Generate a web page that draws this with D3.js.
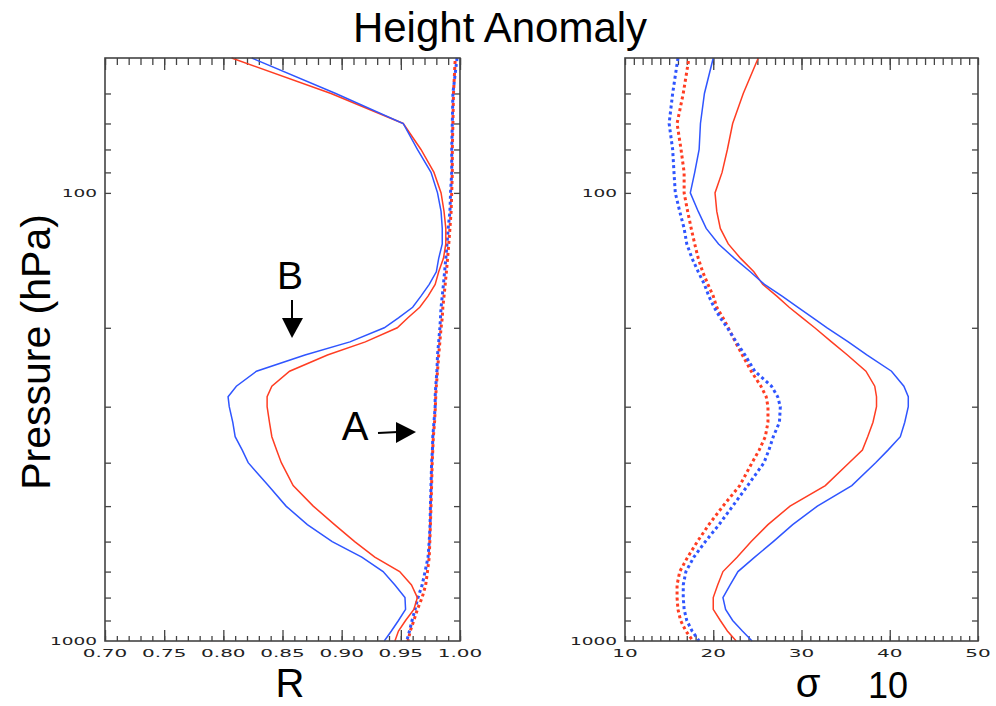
<!DOCTYPE html>
<html>
<head>
<meta charset="utf-8">
<script src="https://cdn.jsdelivr.net/npm/d3@7"></script>
<style>
  body { margin: 0; background: #fff; }
  svg { display: block; }
</style>
</head>
<body>
<div class="chart"></div>
<script>
// pressure levels (hPa) shared by every profile
const pressure = [50,60,70,80,90,100,110,120,130,140,150,160,170,180,190,200,215,230,250,270,285,300,325,350,375,400,450,500,550,600,650,700,750,800,850,900,950,1000];

// left panel: correlation R
const rBlueSolid = [.824,.895,.952,.964,.9755,.981,.984,.985,.985,.982,.980,.974,.967,.960,.948,.936,.907,.869,.828,.811,.804,.805,.808,.810,.816,.821,.838,.853,.871,.892,.917,.935,.945,.9535,.954,.948,.942,.936];
const rRedSolid  = [.807,.891,.952,.967,.978,.984,.9865,.988,.988,.986,.982,.979,.973,.966,.956,.947,.920,.888,.856,.841,.837,.837,.839,.841,.845,.849,.859,.876,.894,.911,.928,.949,.959,.964,.961,.954,.948,.945];
const rBlueDot   = [.9975,.994,.9935,.993,.993,.992,.9915,.990,.989,.988,.987,.986,.985,.984,.9835,.983,.982,.981,.9805,.9795,.979,.979,.978,.977,.9767,.976,.9755,.975,.9747,.974,.973,.9705,.968,.9645,.962,.9595,.9573,.955];
const rRedDot    = [.996,.9945,.994,.9935,.9935,.993,.9925,.9915,.9905,.9895,.9885,.9875,.9865,.9855,.985,.984,.983,.982,.981,.980,.9795,.9792,.9785,.9775,.977,.9765,.976,.9755,.975,.9745,.974,.9725,.971,.968,.964,.961,.958,.956];

// right panel: sigma (x10)
const sBlueSolid = [20.0,19.0,18.55,18.4,17.9,17.4,18.3,19.2,20.6,22.4,24.2,25.8,27.8,29.6,31.3,32.9,35.3,37.4,40.2,41.6,42.1,42.1,41.7,41.2,39.8,38.4,35.7,31.8,29.0,26.8,24.7,22.8,21.9,21.1,21.4,22.2,23.3,24.4];
const sRedSolid  = [25.1,23.4,22.2,21.6,21.0,20.2,20.4,20.8,21.7,23.1,24.6,25.6,27.2,28.6,30.1,31.5,33.4,35.2,37.3,38.3,38.5,38.5,38.1,37.5,36.9,35.4,32.7,28.7,26.2,24.3,22.7,21.1,20.5,20.0,20.0,20.8,21.6,22.6];
const sBlueDot   = [16.0,15.4,15.0,15.4,15.55,15.7,16.2,16.7,17.0,17.6,18.3,19.0,19.5,20.1,20.8,21.6,22.6,23.6,24.7,26.6,27.3,27.6,27.5,26.8,26.3,25.75,23.9,22.2,20.65,19.1,17.8,16.9,16.6,16.6,16.7,17.0,17.6,18.4];
const sRedDot    = [17.25,16.6,15.9,16.35,16.7,16.7,17.1,17.5,17.9,18.3,18.8,19.4,20.0,20.4,21.1,21.7,22.5,23.3,24.3,25.4,26.0,26.2,26.2,25.9,25.2,24.4,23.0,21.1,19.5,18.2,17.1,16.2,15.9,15.9,16.0,16.3,16.9,17.7];

const rTicks = [0.70,0.75,0.80,0.85,0.90,0.95,1.00];
const sTicks = [10,20,30,40,50];
const pLabels = [100,1000];
const pMinor = [60,70,80,90,100,200,300,400,500,600,700,800,900];

const blue = "#2f55ff";
const red = "#ff3d22";

const width = 996;
const height = 706;
const plotTop = 58, plotBottom = 641;

const svg = d3.select('.chart')
  .append('svg')
  .attr('width', width)
  .attr('height', height)
  .style('font-family', 'Liberation Sans, Arial, sans-serif');

const y = d3.scaleLog().domain([50, 1000]).range([plotTop, plotBottom]);

function panel(x0, x1, domain, major, minorStep, labels, fmt, series) {
  const x = d3.scaleLinear().domain(domain).range([x0, x1]);
  const g = svg.append('g');

  const minor = d3.range(domain[0], domain[1] + minorStep / 2, minorStep);

  // ticks, all pointing inward
  const axes = [
    [d3.axisTop(x).tickValues(minor).tickSize(-7), plotTop],
    [d3.axisTop(x).tickValues(major).tickSize(-12), plotTop],
    [d3.axisBottom(x).tickValues(minor).tickSize(-5), plotBottom],
    [d3.axisBottom(x).tickValues(major).tickSize(-11), plotBottom]
  ];
  axes.forEach(a => {
    g.append('g')
      .attr('transform', 'translate(0,' + a[1] + ')')
      .call(a[0].tickFormat(''))
      .call(s => s.select('.domain').remove())
      .selectAll('line').attr('stroke', '#444').attr('stroke-width', 1.3);
  });
  g.append('g').attr('transform', 'translate(' + x0 + ',0)')
    .call(d3.axisLeft(y).tickValues(pMinor).tickSize(-6).tickFormat(''))
    .call(s => s.select('.domain').remove())
    .selectAll('line').attr('stroke', '#444').attr('stroke-width', 1.3);
  g.append('g').attr('transform', 'translate(' + x1 + ',0)')
    .call(d3.axisRight(y).tickValues(pMinor).tickSize(-6).tickFormat(''))
    .call(s => s.select('.domain').remove())
    .selectAll('line').attr('stroke', '#444').attr('stroke-width', 1.3);

  // tick labels (wide plotter style)
  g.selectAll('text.xl')
    .data(labels)
    .enter()
    .append('text')
    .attr('transform', d => 'translate(' + x(d) + ',' + (plotBottom + 16) + ') scale(2,1)')
    .attr('text-anchor', 'middle')
    .attr('font-family', 'DejaVu Sans, sans-serif')
    .attr('font-size', 10)
    .attr('fill', '#222')
    .text(fmt);
  g.selectAll('text.yl')
    .data(pLabels)
    .enter()
    .append('text')
    .attr('transform', d => 'translate(' + (x0 - 8) + ',' + (y(d) + 4) + ') scale(1.85,1)')
    .attr('text-anchor', 'end')
    .attr('font-family', 'DejaVu Sans, sans-serif')
    .attr('font-size', 10)
    .attr('fill', '#222')
    .text(d => d);

  // profiles
  series.forEach(s => {
    const line = d3.line()
      .x((d, i) => x(s.values[i]))
      .y(d => y(d));
    g.append('path')
      .datum(pressure)
      .attr('d', line)
      .attr('fill', 'none')
      .attr('stroke', s.color)
      .attr('stroke-width', s.dot ? 3 : 1.5)
      .attr('stroke-dasharray', s.dot ? '3,3' : null)
      .attr('stroke-dashoffset', s.offset || 0);
  });

  // frame
  g.append('rect')
    .attr('x', x0).attr('y', plotTop)
    .attr('width', x1 - x0).attr('height', plotBottom - plotTop)
    .attr('fill', 'none')
    .attr('stroke', '#444')
    .attr('stroke-width', 1.6);
}

panel(105, 460, [0.70, 1.00], rTicks, 0.01, rTicks, d => d.toFixed(2), [
  { values: rRedDot, color: red, dot: true, offset: 3 },
  { values: rBlueDot, color: blue, dot: true },
  { values: rRedSolid, color: red },
  { values: rBlueSolid, color: blue }
]);

panel(625, 978, [10, 50], [20, 30, 40], 1, sTicks, d => d, [
  { values: sRedDot, color: red, dot: true, offset: 3 },
  { values: sBlueDot, color: blue, dot: true },
  { values: sRedSolid, color: red },
  { values: sBlueSolid, color: blue }
]);

// titles
svg.append('text')
  .attr('x', 500).attr('y', 42)
  .attr('text-anchor', 'middle')
  .attr('font-size', 42)
  .text('Height Anomaly');

svg.append('text')
  .attr('transform', 'translate(50,352) rotate(-90)')
  .attr('text-anchor', 'middle')
  .attr('font-size', 41)
  .text('Pressure (hPa)');

svg.append('text')
  .attr('x', 290).attr('y', 697)
  .attr('text-anchor', 'middle')
  .attr('font-size', 40)
  .text('R');

svg.append('text')
  .attr('x', 808).attr('y', 697)
  .attr('text-anchor', 'middle')
  .attr('font-size', 40)
  .text('σ');

svg.append('text')
  .attr('x', 888).attr('y', 698)
  .attr('text-anchor', 'middle')
  .attr('font-size', 36)
  .text('10');

// annotations
svg.append('text')
  .attr('x', 290).attr('y', 289)
  .attr('text-anchor', 'middle')
  .attr('font-size', 39)
  .text('B');
svg.append('line')
  .attr('x1', 292).attr('y1', 300).attr('x2', 292).attr('y2', 320)
  .attr('stroke', '#000').attr('stroke-width', 2);
svg.append('path')
  .attr('d', 'M282,318 L303,318 L292,338 Z')
  .attr('fill', '#000');

svg.append('text')
  .attr('x', 355).attr('y', 440)
  .attr('text-anchor', 'middle')
  .attr('font-size', 40)
  .text('A');
svg.append('line')
  .attr('x1', 378).attr('y1', 433).attr('x2', 398).attr('y2', 432)
  .attr('stroke', '#000').attr('stroke-width', 2);
svg.append('path')
  .attr('d', 'M396,422 L396,443 L416,432 Z')
  .attr('fill', '#000');
</script>
</body>
</html>
